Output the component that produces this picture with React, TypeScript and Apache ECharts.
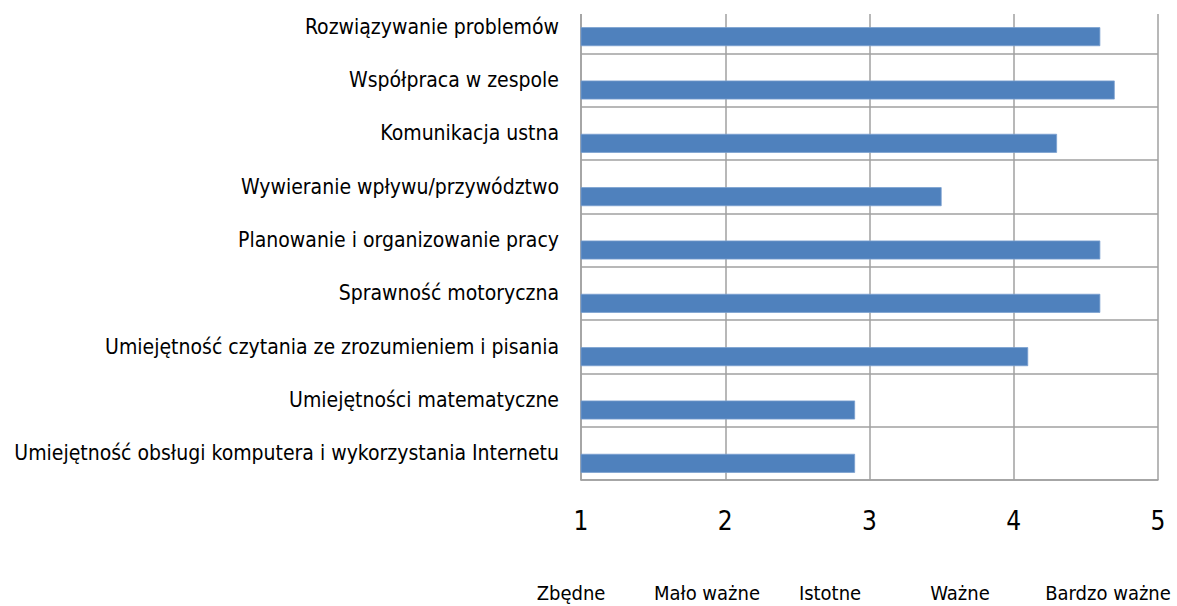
import React, { useEffect, useRef } from "react";
import * as echarts from "echarts";

const categories = [
  "Rozwiązywanie problemów",
  "Współpraca w zespole",
  "Komunikacja ustna",
  "Wywieranie wpływu/przywództwo",
  "Planowanie i organizowanie pracy",
  "Sprawność motoryczna",
  "Umiejętność czytania ze zrozumieniem i pisania",
  "Umiejętności matematyczne",
  "Umiejętność obsługi komputera i wykorzystania Internetu",
];
const values = [4.6, 4.7, 4.3, 3.5, 4.6, 4.6, 4.1, 2.9, 2.9];
const scaleLabels = ["Zbędne", "Mało ważne", "Istotne", "Ważne", "Bardzo ważne"];
const scaleLabelX = [571, 707, 830, 960, 1108];

const FONT = "'DejaVu Sans Condensed', 'Noto Sans', sans-serif";
const GRID = "#a0a0a0";

export default function App() {
  const ref = useRef<HTMLDivElement>(null);
  useEffect(() => {
    if (!ref.current) return;
    const chart = echarts.init(ref.current, undefined, { renderer: "svg" });
    chart.setOption({
      animation: false,
      backgroundColor: "#ffffff",
      grid: { left: 581, right: 19, top: -1.5, bottom: 126, containLabel: false },
      xAxis: {
        type: "value",
        min: 1,
        max: 5,
        interval: 1,
        axisLine: { show: true, lineStyle: { color: GRID, width: 1.5 } },
        axisTick: { show: false },
        splitLine: { show: true, lineStyle: { color: GRID, width: 1.5 } },
        axisLabel: { fontSize: 26, color: "#000", fontFamily: FONT, margin: 28 },
      },
      yAxis: {
        type: "category",
        inverse: true,
        data: categories,
        axisLine: { show: true, lineStyle: { color: GRID, width: 1.5 } },
        axisTick: { show: false },
        splitLine: { show: true, lineStyle: { color: GRID, width: 1.5 } },
        axisLabel: { fontSize: 21, color: "#000", fontFamily: FONT, margin: 22 },
      },
      series: [
        {
          type: "bar",
          name: "spacer",
          data: categories.map(() => "-"),
          barWidth: 20,
          barGap: "0%",
          silent: true,
          itemStyle: { color: "transparent" },
        },
        {
          type: "bar",
          name: "Ocena",
          data: values,
          barWidth: 19,
          barGap: "0%",
          itemStyle: { color: "#4f81bd", borderColor: "#7aa0cf", borderWidth: 0.8 },
        },
      ],
      graphic: [
        {
          type: "rect",
          z: 100,
          shape: { x: 570, y: -10, width: 607, height: 24 },
          style: { fill: "#ffffff" },
          silent: true,
        },
        ...scaleLabels.map((t, i) => ({
          type: "text",
          x: scaleLabelX[i],
          y: 593,
          style: {
            text: t,
            fontSize: 20,
            fontFamily: FONT,
            fill: "#000",
            textAlign: "center",
            textVerticalAlign: "middle",
          },
        })),
      ],
    });
    return () => chart.dispose();
  }, []);
  return (
    <div
      ref={ref}
      style={{ position: "fixed", left: 0, top: 0, width: 1177, height: 606, background: "#fff" }}
    />
  );
}
